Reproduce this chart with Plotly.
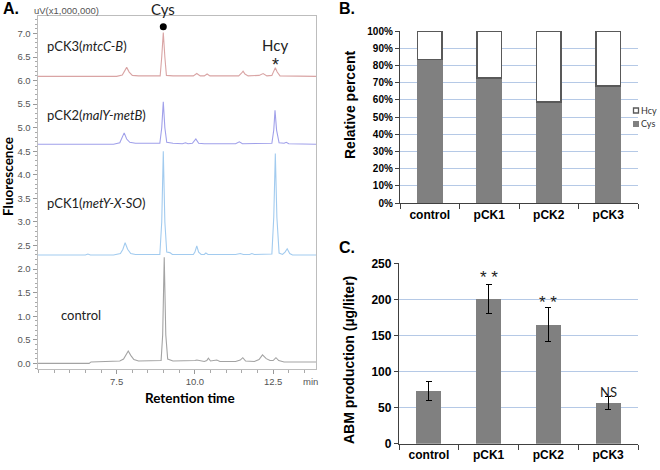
import plotly.graph_objects as go

# ---------------- data ----------------
# Panel A: chromatograms (retention time [min], signal [uV x 1e6])
control_pts = [(4.97, 0.0), (6.62, 0.0), (6.68, 0.03), (7.2, 0.04), (7.6, 0.05), (7.72, 0.09), (7.8, 0.17),
               (7.87, 0.26), (7.95, 0.17), (8.05, 0.08), (8.2, 0.05), (8.5, 0.05), (8.92, 0.06), (8.97, 0.6),
               (9.02, 2.25), (9.07, 0.6), (9.13, 0.09), (9.3, 0.05), (9.8, 0.05), (10.0, 0.06), (10.06, 0.07),
               (10.15, 0.06), (10.3, 0.04), (10.38, 0.06), (10.43, 0.11), (10.5, 0.05), (10.6, 0.06),
               (10.7, 0.07), (10.8, 0.04), (11.3, 0.04), (11.45, 0.07), (11.53, 0.12), (11.62, 0.05),
               (11.9, 0.04), (12.05, 0.08), (12.16, 0.18), (12.28, 0.1), (12.4, 0.06), (12.5, 0.06),
               (12.59, 0.12), (12.68, 0.06), (12.85, 0.03), (13.2, 0.03), (13.87, 0.03)]
pck1_pts = [(4.97, 2.30), (6.5, 2.30), (6.58, 2.32), (6.66, 2.30), (7.4, 2.30), (7.62, 2.33), (7.7, 2.42),
            (7.77, 2.56), (7.85, 2.42), (7.95, 2.33), (8.1, 2.31), (8.88, 2.31), (8.94, 3.0), (8.99, 4.5),
            (9.04, 3.0), (9.1, 2.36), (9.2, 2.35), (9.28, 2.31), (9.95, 2.31), (10.0, 2.36), (10.06, 2.49),
            (10.12, 2.36), (10.2, 2.31), (10.3, 2.31), (10.35, 2.34), (10.42, 2.31), (11.3, 2.31),
            (11.45, 2.33), (11.55, 2.31), (11.75, 2.31), (11.82, 2.33), (11.9, 2.31), (12.46, 2.32),
            (12.52, 3.1), (12.57, 4.45), (12.62, 3.1), (12.69, 2.34), (12.8, 2.31), (12.88, 2.36),
            (12.95, 2.43), (13.03, 2.33), (13.12, 2.30), (13.87, 2.30)]
pck2_pts = [(4.97, 4.65), (7.4, 4.65), (7.6, 4.68), (7.67, 4.78), (7.74, 4.89), (7.82, 4.76), (7.92, 4.69),
            (8.1, 4.67), (8.88, 4.67), (8.94, 5.0), (8.99, 5.55), (9.04, 5.0), (9.1, 4.69), (9.3, 4.67),
            (9.6, 4.66), (9.7, 4.68), (9.78, 4.66), (9.92, 4.67), (10.03, 4.76), (10.12, 4.67), (10.3, 4.66),
            (11.3, 4.66), (11.42, 4.70), (11.52, 4.66), (12.46, 4.67), (12.52, 4.95), (12.56, 5.37),
            (12.61, 4.95), (12.69, 4.68), (12.85, 4.67), (12.92, 4.69), (13.0, 4.66), (13.87, 4.65)]
pck3_pts = [(4.97, 6.09), (7.5, 6.09), (7.68, 6.12), (7.75, 6.2), (7.82, 6.28), (7.9, 6.18), (8.0, 6.11),
            (8.2, 6.1), (8.89, 6.1), (8.94, 6.5), (8.99, 7.02), (9.04, 6.5), (9.09, 6.11), (9.3, 6.1),
            (9.95, 6.1), (10.06, 6.15), (10.17, 6.1), (10.3, 6.1), (10.39, 6.14), (10.48, 6.1), (11.4, 6.1),
            (11.48, 6.15), (11.54, 6.2), (11.6, 6.14), (11.7, 6.1), (12.05, 6.11), (12.18, 6.15),
            (12.3, 6.1), (12.46, 6.11), (12.52, 6.2), (12.57, 6.27), (12.63, 6.18), (12.72, 6.1),
            (13.87, 6.09)]
cys_marker = (8.99, 7.14)
hcy_x = 12.57
x_ticks_a = [7.5, 10.0, 12.5]

# Panel B: relative percent
strains = ["control", "pCK1", "pCK2", "pCK3"]
cys_pct = [83.5, 72.7, 58.7, 68.0]
hcy_pct = [100 - v for v in cys_pct]

# Panel C: ABM production
abm = [73, 201, 165, 56]
abm_err = [13, 20, 24, 9]
abm_marks = ["", "* *", "* *", "NS"]
abm_mark_y = [0, 231, 196, 71]

# ---------------- figure ----------------
W, H = 660, 470
def px(x):
    return x / W
def py(y):
    return 1 - y / H

fig = go.Figure()

line_cols = {"control": "#a3a3a3", "pCK1": "#a2cbef", "pCK2": "#a0a0ea", "pCK3": "#d9a4a4"}
for name, pts in [("control", control_pts), ("pCK1", pck1_pts), ("pCK2", pck2_pts), ("pCK3", pck3_pts)]:
    fig.add_trace(go.Scatter(x=[p[0] for p in pts], y=[p[1] for p in pts], mode="lines",
                             line=dict(color=line_cols[name], width=1.1), xaxis="x", yaxis="y",
                             hoverinfo="skip"))
fig.add_trace(go.Scatter(x=[cys_marker[0]], y=[cys_marker[1]], mode="markers",
                         marker=dict(color="black", size=7), xaxis="x", yaxis="y"))

# Panel B
fig.add_trace(go.Bar(x=strains, y=cys_pct, marker=dict(color="#808080", line=dict(width=0)),
                     width=0.43, xaxis="x2", yaxis="y2", name="Cys"))
fig.add_trace(go.Bar(x=strains, y=hcy_pct, marker=dict(color="white", line=dict(color="#595959", width=1.6)),
                     width=0.41, xaxis="x2", yaxis="y2", name="Hcy"))

# Panel C
fig.add_trace(go.Bar(x=strains, y=abm, marker=dict(color="#808080", line=dict(width=0)), width=0.42,
                     error_y=dict(type="data", array=abm_err, color="black", thickness=1.1, width=3),
                     xaxis="x3", yaxis="y3", name="ABM"))

tickfont_a = dict(family="Liberation Sans, Arial", size=9.5, color="#555555")
fig.update_layout(
    width=W, height=H, template="none", showlegend=False, barmode="stack",
    margin=dict(l=0, r=0, t=0, b=0), paper_bgcolor="white", plot_bgcolor="rgba(0,0,0,0)",
    xaxis=dict(domain=[px(37.5), px(316)], range=[4.97, 13.87], anchor="y",
               tickvals=x_ticks_a, ticktext=["7.5", "10.0", "12.5"], ticks="outside", ticklen=4,
               tickcolor="#999999", minor=dict(dtick=0.5, tick0=0, ticks="outside", ticklen=3, tickcolor="#aaaaaa"),
               showline=True, linecolor="#bdbdbd", linewidth=1, mirror=True, showgrid=False, zeroline=False,
               tickfont=tickfont_a, automargin=False, fixedrange=True),
    yaxis=dict(domain=[py(369), py(16)], range=[-0.12, 7.37], anchor="x",
               dtick=0.5, tick0=0, tickformat=".1f", ticks="outside", ticklen=4, tickcolor="#999999",
               minor=dict(dtick=0.1, tick0=0, ticks="outside", ticklen=2, tickcolor="#aaaaaa"),
               showline=True, linecolor="#bdbdbd", linewidth=1, mirror=True, showgrid=False, zeroline=False,
               tickfont=tickfont_a, automargin=False, fixedrange=True),
    xaxis2=dict(domain=[px(400), px(638)], anchor="y2", type="category", ticks="outside", ticklen=5,
                tickson="boundaries", tickcolor="#404040", showline=True, linecolor="#404040", linewidth=1.3,
                showgrid=False, tickfont=dict(family="Liberation Sans, Arial", size=12, color="black", weight="bold"),
                automargin=False, fixedrange=True),
    yaxis2=dict(domain=[py(203), py(31)], range=[0, 100], anchor="x2", dtick=10, ticksuffix="%",
                ticks="outside", ticklen=4, tickcolor="#404040", showline=True, linecolor="#404040", linewidth=1.3,
                showgrid=True, gridcolor="#b5c9e6", gridwidth=1, zeroline=False,
                tickfont=dict(family="Liberation Sans, Arial", size=10, color="black", weight="bold"),
                automargin=False, fixedrange=True),
    xaxis3=dict(domain=[px(399), px(638)], anchor="y3", type="category", ticks="outside", ticklen=5,
                tickson="boundaries", tickcolor="#404040", showline=True, linecolor="#404040", linewidth=1.3,
                showgrid=False, tickfont=dict(family="Liberation Sans, Arial", size=12, color="black", weight="bold"),
                automargin=False, fixedrange=True),
    yaxis3=dict(domain=[py(443.7), py(263.3)], range=[0, 250], anchor="x3", dtick=50,
                ticks="outside", ticklen=4, tickcolor="#404040", showline=True, linecolor="#404040", linewidth=1.3,
                showgrid=True, gridcolor="#b5c9e6", gridwidth=1, zeroline=False,
                tickfont=dict(family="Liberation Sans, Arial", size=12, color="black", weight="bold"),
                automargin=False, fixedrange=True),
)

ann = []
def note(x, y, text, size=13, family="Lato", color="#222222", bold=False, angle=0, xanchor="center",
         xref="paper", yref="paper"):
    ann.append(dict(x=x, y=y, xref=xref, yref=yref, text=text, showarrow=False, xanchor=xanchor,
                    yanchor="middle", textangle=angle, borderpad=0,
                    font=dict(family=family, size=size, color=color, weight="bold" if bold else "normal")))

arial = "Liberation Sans, Arial"
# panel letters
note(px(11), py(9), "A.", size=16, family=arial, color="black", bold=True)
note(px(347), py(9), "B.", size=16, family=arial, color="black", bold=True)
note(px(347), py(247), "C.", size=16, family=arial, color="black", bold=True)

# panel A texts
note(px(66), py(11), "uV(x1,000,000)", size=9.5, family=arial, color="#555555")
note(px(163), py(9), "Cys", size=15)
note(hcy_x, py(45), "Hcy", size=15, xref="x")
note(hcy_x, py(65), "*", size=18, family=arial, xref="x")
note(px(46), py(46), "pCK3(<i>mtcC-B</i>)", xanchor="left")
note(px(46), py(115), "pCK2(<i>malY-metB</i>)", xanchor="left")
note(px(46), py(203), "pCK1(<i>metY-X-SO</i>)", xanchor="left")
note(px(60), py(315), "control", xanchor="left")
note(px(310), py(381), "min", size=9.5, family=arial, color="#555555")
note(px(190), py(398), "Retention time", size=13.5, color="black", bold=True)
note(px(8), py(177), "Fluorescence", size=13.5, color="black", bold=True, angle=-90)

# panel B/C texts
note(px(350), py(105), "Relative percent", size=14, family=arial, color="black", bold=True, angle=-90)
note(px(349), py(360), "ABM production (µg/liter)", size=14, family=arial, color="black", bold=True, angle=-90)
note(px(640), py(110.5), "Hcy", size=9, color="#333333", xanchor="left")
note(px(640), py(124), "Cys", size=9, color="#333333", xanchor="left")
for s, m, yv in zip(strains, abm_marks, abm_mark_y):
    if m == "NS":
        note(s, yv, m, size=13, color="#222222", xref="x3", yref="y3")
    elif m:
        note(s, yv, m, size=17, family=arial, color="#222222", xref="x3", yref="y3")

fig.update_layout(annotations=ann)

# manual legend swatches for panel B
fig.add_shape(type="rect", xref="paper", yref="paper", x0=px(633.5), x1=px(638.5), y0=py(113), y1=py(108),
              line=dict(color="#595959", width=1.3), fillcolor="white")
fig.add_shape(type="rect", xref="paper", yref="paper", x0=px(633), x1=px(639), y0=py(127), y1=py(121),
              line=dict(width=0), fillcolor="#808080")

fig.write_html("out.html", config={"displayModeBar": False},
               post_script="document.body.style.margin='0px';document.body.style.overflow='hidden';")
